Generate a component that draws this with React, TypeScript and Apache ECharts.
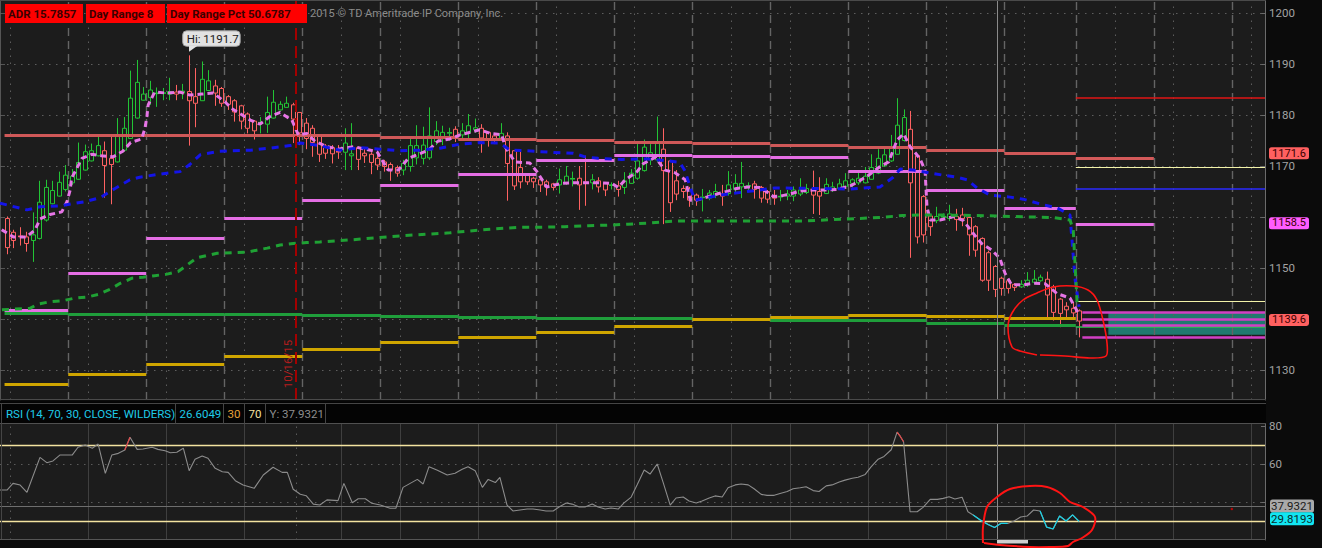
import React, { useEffect, useRef } from "react";
import * as echarts from "echarts";

const FONT = "Roboto, 'Noto Sans', sans-serif";

// ---------- axis ticks ----------
const priceTicks = [1130, 1140, 1150, 1160, 1170, 1180, 1190, 1200];
const priceLabels = [1130, 1150, 1170, 1180, 1190, 1200]; // 1140 / 1160 sit under the value tags
const rsiTicks = [40, 60, 80];
const rsiLabels = [60, 80];
const rsiGridLevels = [40, 60];
const rsiBands = [30, 70];

// ---------- 30-minute candles: [open, close, low, high] ----------
const ohlc = [
  [1159.7, 1154.0, 1152.7, 1160.1], [1157.0, 1155.4, 1153.9, 1157.5], [1156.3, 1156.1, 1154.4, 1158.0], [1156.1, 1154.8, 1153.2, 1157.1],
  [1155.4, 1156.5, 1151.2, 1160.9], [1155.8, 1162.9, 1155.6, 1167.1], [1159.4, 1165.8, 1159.1, 1167.3], [1162.6, 1165.2, 1162.5, 1167.1],
  [1164.1, 1166.8, 1164.0, 1168.9], [1165.4, 1168.2, 1165.0, 1170.2], [1166.7, 1168.0, 1166.3, 1169.4], [1167.4, 1170.7, 1167.3, 1174.6],
  [1169.2, 1172.8, 1169.1, 1174.2], [1171.0, 1173.0, 1170.9, 1174.4], [1172.0, 1174.0, 1171.9, 1176.1], [1173.0, 1170.1, 1163.8, 1174.8],
  [1171.5, 1170.3, 1162.5, 1176.1], [1170.8, 1175.9, 1170.7, 1179.4], [1173.1, 1177.4, 1172.8, 1179.6], [1175.4, 1183.3, 1175.3, 1188.7],
  [1179.4, 1186.4, 1179.3, 1190.8], [1182.9, 1184.1, 1182.8, 1185.5], [1183.4, 1184.9, 1182.0, 1186.7], [1184.2, 1184.3, 1181.6, 1185.4],
  [1184.2, 1184.4, 1182.9, 1185.3], [1184.1, 1184.6, 1182.9, 1187.3], [1184.5, 1184.1, 1182.9, 1185.9], [1184.3, 1184.7, 1183.1, 1186.1],
  [1184.6, 1182.8, 1174.0, 1191.7], [1183.6, 1182.3, 1177.6, 1189.2], [1182.8, 1187.0, 1182.8, 1190.5], [1184.8, 1186.7, 1184.7, 1188.8],
  [1185.7, 1184.3, 1181.8, 1186.9], [1185.2, 1182.3, 1181.6, 1185.5], [1183.6, 1182.1, 1181.0, 1183.9], [1182.8, 1180.6, 1178.7, 1183.1],
  [1181.8, 1178.8, 1177.2, 1182.0], [1180.2, 1177.4, 1176.4, 1180.5], [1178.8, 1176.9, 1175.2, 1179.0], [1178.4, 1178.6, 1176.4, 1179.6],
  [1178.2, 1180.5, 1176.5, 1183.6], [1179.4, 1182.5, 1179.3, 1184.9], [1181.0, 1182.1, 1180.9, 1182.7], [1181.5, 1182.3, 1181.4, 1183.6],
  [1182.0, 1179.2, 1174.5, 1182.4], [1180.5, 1176.5, 1174.1, 1180.6], [1178.4, 1175.4, 1173.3, 1179.4], [1177.4, 1174.6, 1171.8, 1178.0],
  [1175.9, 1172.3, 1170.8, 1176.2], [1173.9, 1172.5, 1171.4, 1174.3], [1173.6, 1172.4, 1170.5, 1174.1], [1172.9, 1172.7, 1171.4, 1174.1],
  [1172.7, 1174.5, 1169.2, 1177.4], [1172.0, 1172.4, 1169.2, 1178.4], [1173.6, 1171.3, 1169.2, 1173.8], [1172.5, 1172.0, 1170.6, 1173.4],
  [1172.3, 1170.7, 1168.4, 1172.7], [1171.5, 1170.2, 1169.2, 1172.2], [1170.8, 1169.9, 1168.9, 1171.2], [1170.3, 1169.2, 1167.1, 1170.7],
  [1169.7, 1168.6, 1167.9, 1170.1], [1169.2, 1170.5, 1168.2, 1171.2], [1169.9, 1174.0, 1168.9, 1175.3], [1171.6, 1174.0, 1170.3, 1178.0],
  [1171.5, 1174.1, 1170.3, 1177.7], [1171.6, 1175.9, 1171.2, 1181.5], [1174.8, 1176.9, 1174.1, 1178.8], [1175.4, 1176.6, 1174.1, 1177.9],
  [1176.4, 1176.6, 1175.0, 1177.5], [1177.2, 1175.6, 1174.7, 1177.8], [1176.1, 1176.9, 1175.4, 1178.4], [1176.5, 1177.9, 1175.4, 1180.2],
  [1177.1, 1177.5, 1176.5, 1179.3], [1177.4, 1175.5, 1172.6, 1178.2], [1176.6, 1175.0, 1173.8, 1176.7], [1175.9, 1175.2, 1174.3, 1176.1],
  [1175.5, 1176.4, 1174.9, 1178.4], [1175.9, 1170.5, 1163.2, 1176.6], [1173.0, 1166.1, 1165.3, 1173.1], [1169.7, 1166.9, 1165.6, 1172.8],
  [1168.4, 1166.9, 1166.3, 1168.6], [1167.6, 1166.9, 1165.7, 1167.9], [1167.3, 1166.3, 1164.9, 1167.6], [1166.9, 1165.9, 1164.2, 1167.3],
  [1166.5, 1165.8, 1165.2, 1166.7], [1166.3, 1167.3, 1164.6, 1169.5], [1166.6, 1168.0, 1166.3, 1170.0], [1167.4, 1167.6, 1166.0, 1168.9],
  [1167.6, 1166.3, 1161.4, 1170.0], [1166.9, 1166.6, 1162.2, 1172.0], [1166.7, 1167.3, 1165.4, 1168.4], [1167.1, 1165.9, 1164.8, 1167.8],
  [1166.6, 1165.3, 1164.1, 1166.7], [1166.2, 1166.3, 1165.4, 1166.8], [1166.1, 1165.4, 1164.0, 1167.1], [1165.8, 1167.1, 1164.5, 1168.8],
  [1166.6, 1168.6, 1166.5, 1169.4], [1167.6, 1171.0, 1167.3, 1174.3], [1169.1, 1173.7, 1168.9, 1175.2], [1171.2, 1172.6, 1170.2, 1174.3],
  [1171.2, 1174.8, 1170.8, 1179.7], [1173.3, 1169.1, 1158.6, 1177.4], [1171.0, 1162.8, 1161.0, 1171.2], [1167.1, 1164.5, 1163.3, 1169.2],
  [1165.6, 1165.0, 1163.7, 1166.2], [1165.4, 1163.3, 1162.0, 1165.9], [1164.3, 1163.3, 1162.2, 1164.6], [1163.7, 1164.0, 1161.1, 1165.5],
  [1163.7, 1164.7, 1163.3, 1165.3], [1164.3, 1165.0, 1163.7, 1166.5], [1164.5, 1164.1, 1162.2, 1166.3], [1164.6, 1166.3, 1164.2, 1169.0],
  [1165.4, 1166.6, 1164.9, 1168.4], [1165.9, 1166.6, 1163.7, 1170.8], [1166.0, 1166.2, 1165.3, 1166.8], [1166.5, 1165.4, 1163.6, 1167.1],
  [1165.8, 1163.7, 1162.8, 1166.1], [1165.0, 1163.5, 1162.7, 1165.3], [1164.1, 1163.7, 1162.4, 1165.3], [1163.9, 1164.1, 1163.1, 1165.3],
  [1164.1, 1164.5, 1163.3, 1165.3], [1164.1, 1165.3, 1163.1, 1166.0], [1164.5, 1165.3, 1164.1, 1167.6], [1164.8, 1165.6, 1164.5, 1166.5],
  [1165.3, 1164.3, 1160.6, 1169.1], [1165.0, 1164.1, 1160.4, 1167.8], [1164.6, 1166.4, 1164.5, 1167.6], [1165.3, 1165.9, 1164.9, 1166.9],
  [1165.6, 1166.5, 1165.3, 1167.5], [1166.0, 1167.1, 1165.5, 1168.6], [1166.6, 1167.3, 1165.8, 1167.6], [1166.7, 1167.6, 1166.3, 1169.2],
  [1166.7, 1168.0, 1166.6, 1169.8], [1167.4, 1169.7, 1167.3, 1172.3], [1168.6, 1171.5, 1168.4, 1173.3], [1170.0, 1172.2, 1169.8, 1173.5],
  [1171.0, 1173.5, 1170.8, 1176.1], [1172.3, 1178.0, 1172.2, 1183.3], [1175.0, 1179.5, 1174.8, 1181.1], [1177.2, 1166.7, 1152.0, 1180.8],
  [1172.0, 1156.1, 1154.8, 1172.2], [1164.0, 1156.5, 1155.0, 1164.3], [1160.2, 1158.1, 1156.3, 1160.6], [1159.3, 1160.1, 1158.8, 1162.0],
  [1160.0, 1160.1, 1159.5, 1160.7], [1159.7, 1160.6, 1159.2, 1162.4], [1160.1, 1159.5, 1157.3, 1161.6], [1160.4, 1159.7, 1158.2, 1161.8],
  [1159.9, 1156.5, 1152.4, 1160.2], [1158.1, 1153.5, 1152.2, 1158.4], [1155.8, 1147.6, 1147.3, 1156.0], [1153.0, 1147.6, 1145.5, 1153.4],
  [1150.3, 1145.8, 1144.3, 1150.6], [1148.0, 1146.0, 1144.6, 1148.3], [1147.5, 1146.0, 1145.0, 1147.8], [1146.8, 1146.2, 1145.5, 1147.0],
  [1146.3, 1146.8, 1146.1, 1147.6], [1146.7, 1147.6, 1146.3, 1149.2], [1147.2, 1147.8, 1146.9, 1149.6], [1147.5, 1148.2, 1147.3, 1148.7],
  [1147.8, 1144.7, 1140.3, 1149.3], [1146.3, 1141.3, 1139.7, 1146.7], [1143.9, 1141.1, 1138.4, 1144.1], [1142.5, 1141.8, 1140.3, 1143.3],
  [1142.1, 1141.2, 1140.4, 1143.3], [1141.6, 1139.6, 1136.4, 1141.9],
];

// ---------- moving averages: [bar position, value] ----------
const pinkMA = [
  [-0.74, 1157.5], [1.05, 1156.1], [3.1, 1156.1], [4.4, 1157.5], [5.15, 1159.6], [6.7, 1160.5], [8.5, 1161.0], [9.3, 1163.0], [9.8, 1165.3],
  [10.0, 1167.6], [10.8, 1169.5], [11.6, 1171.5], [13.1, 1172.3], [14.6, 1172.0], [16.4, 1171.8], [17.9, 1172.9], [19.1, 1174.6], [20.8, 1175.3],
  [21.3, 1177.4], [21.6, 1179.7], [21.8, 1182.0], [22.8, 1184.5], [24.6, 1184.3], [26.7, 1184.5], [28.2, 1183.9], [30.0, 1184.1], [31.8, 1184.3],
  [33.6, 1182.6], [34.6, 1181.3], [35.9, 1180.3], [37.5, 1179.0], [39.0, 1178.2], [40.5, 1179.7], [42.1, 1180.5], [43.9, 1179.0], [44.9, 1176.1],
  [46.2, 1176.4], [47.5, 1174.8], [49.3, 1173.8], [51.0, 1173.3], [53.4, 1173.8], [55.2, 1173.3], [57.0, 1172.8], [58.7, 1169.2], [60.3, 1169.2],
  [61.8, 1171.5], [63.4, 1172.3], [64.9, 1173.1], [66.4, 1174.9], [68.2, 1175.3], [69.8, 1176.1], [72.8, 1177.1], [74.4, 1176.4], [76.2, 1176.1],
  [76.7, 1173.8], [78.2, 1170.8], [80.5, 1170.6], [81.6, 1168.9], [83.1, 1165.9], [85.4, 1166.6], [87.2, 1166.7], [89.3, 1166.7], [91.3, 1166.7],
  [93.1, 1166.6], [94.1, 1165.8], [95.2, 1167.3], [97.0, 1168.9], [98.0, 1170.5], [99.8, 1171.7], [101.3, 1169.2], [102.8, 1168.7], [104.4, 1167.3],
  [105.2, 1163.3], [106.2, 1163.3], [107.7, 1163.9], [109.3, 1164.5], [110.8, 1165.0], [112.3, 1165.6], [114.1, 1165.9], [115.9, 1165.8],
  [118.0, 1164.0], [119.0, 1164.1], [120.5, 1164.5], [122.1, 1165.1], [124.1, 1165.3], [126.2, 1165.3], [127.7, 1165.4], [129.8, 1166.1],
  [131.0, 1166.9], [132.6, 1168.2], [134.4, 1169.9], [135.7, 1170.8], [137.0, 1175.1], [138.0, 1176.3], [139.0, 1173.8], [140.5, 1171.5],
  [141.3, 1169.2], [141.6, 1162.0], [142.1, 1159.4], [143.6, 1159.4], [145.7, 1160.1], [147.2, 1159.3], [148.7, 1156.8], [150.0, 1154.8],
  [151.6, 1153.5], [152.8, 1151.9], [153.6, 1149.0], [154.6, 1146.7], [156.4, 1146.7], [158.0, 1147.0], [159.8, 1146.9], [161.6, 1145.0],
  [163.6, 1144.1], [164.9, 1141.1],
];
const blueMA = [
  [-1.0, 1162.7], [3.15, 1161.4], [5.15, 1162.0], [8.2, 1162.2], [12.1, 1163.0], [14.4, 1163.8], [16.7, 1165.6], [19.0, 1167.3], [20.5, 1167.8],
  [23.6, 1168.4], [26.7, 1168.9], [28.2, 1170.3], [29.8, 1172.2], [32.8, 1172.9], [37.5, 1173.1], [40.5, 1173.5], [43.6, 1174.0], [45.2, 1174.5],
  [48.2, 1174.0], [49.8, 1173.5], [51.3, 1173.1], [54.4, 1173.6], [57.5, 1173.3], [60.5, 1173.0], [63.6, 1173.1], [66.7, 1173.5], [69.8, 1174.3],
  [72.8, 1174.6], [75.9, 1174.5], [77.5, 1173.1], [79.8, 1173.0], [83.6, 1172.7], [87.2, 1172.5], [89.0, 1171.8], [91.0, 1171.5], [94.7, 1171.3],
  [98.5, 1171.4], [101.8, 1171.0], [103.6, 1170.7], [104.4, 1169.0], [105.2, 1165.7], [105.9, 1163.3], [109.8, 1164.3], [118.2, 1165.7],
  [129.8, 1165.5], [134.4, 1165.9], [136.4, 1167.8], [137.5, 1169.4], [139.5, 1169.2], [144.1, 1168.2], [146.2, 1167.8], [147.8, 1167.3],
  [149.3, 1165.7], [151.3, 1164.3], [154.4, 1163.9], [156.4, 1163.5], [159.5, 1162.4], [161.6, 1161.8], [163.6, 1160.4], [164.4, 1147.6],
  [164.7, 1145.1], [165.0, 1142.4],
];
const greenMA = [
  [-0.7, 1141.8], [3.6, 1142.1], [4.8, 1142.9], [6.7, 1143.4], [8.7, 1143.6], [10.5, 1144.1], [12.4, 1144.3], [14.1, 1144.8], [15.9, 1145.8],
  [17.5, 1147.0], [19.3, 1148.0], [21.0, 1148.2], [22.8, 1148.5], [24.7, 1148.8], [26.4, 1149.3], [27.9, 1150.7], [29.3, 1152.0], [31.0, 1152.5],
  [32.4, 1152.9], [34.8, 1153.0], [37.0, 1153.1], [38.5, 1153.5], [40.1, 1153.9], [42.1, 1154.5], [44.1, 1154.8], [46.2, 1155.0], [48.2, 1155.1],
  [52.8, 1155.5], [60.5, 1156.3], [68.2, 1156.9], [73.2, 1157.5], [76.7, 1157.8], [79.3, 1158.0], [82.4, 1158.0], [85.9, 1158.1], [89.5, 1158.3],
  [92.5, 1158.4], [95.6, 1158.6], [98.7, 1158.8], [100.8, 1159.0], [102.8, 1159.2], [105.9, 1159.2], [122.1, 1159.2], [134.4, 1159.9],
  [137.9, 1160.3], [140.1, 1160.4], [143.2, 1160.4], [149.3, 1160.3], [154.8, 1160.1], [161.0, 1159.9], [163.6, 1159.4], [164.1, 1157.5],
  [164.7, 1143.1], [165.0, 1142.5],
];

// ---------- daily levels (one value per session) ----------
const dayBounds = [
  [-0.3, 9.5], [9.5, 21.5], [21.5, 33.5], [33.5, 45.5], [45.5, 57.5], [57.5, 69.5], [69.5, 81.5],
  [81.5, 93.5], [93.5, 105.5], [105.5, 117.5], [117.5, 129.5], [129.5, 141.5], [141.5, 153.5], [153.5, 164.5],
];
const salmonLevels = [1176.1, 1176.1, 1176.1, 1176.1, 1176.0, 1175.6, 1175.2, 1175.0, 1174.7, 1174.5, 1174.1, 1173.7, 1173.1, 1172.5];
const pinkLevels = [1141.8, 1148.9, 1155.8, 1159.7, 1163.2, 1166.3, 1168.4, 1171.1, 1172.1, 1171.9, 1171.7, 1169.0, 1165.3, 1161.8];
const greenLevels = [1141.1, 1140.9, 1140.9, 1140.9, 1140.7, 1140.5, 1140.4, 1140.2, 1140.1, 1139.9, 1139.8, 1139.7, 1139.2, 1138.7];
const yellowLevels = [1127.2, 1129.1, 1131.2, 1132.7, 1134.1, 1135.4, 1136.5, 1137.5, 1138.6, 1140.0, 1140.4, 1140.7, 1140.5, 1140.1];

// current session levels
const todayRed = 1183.3;
const todaySalmon = 1171.6;
const todayHiLine = 1169.7;
const todayBlue = 1165.6;
const todayPink = 1158.5;
const todayLoLine = 1143.5;
const todayGreen = 1138.4;
const profileLines = [1141.4, 1140.0, 1138.8, 1136.5];
const profileBand = [1136.9, 1141.3];
const lastPrice = 1139.6;

// ---------- grid positions (bar units) ----------
const daySeparators = [9.5, 21.5, 33.5, 45.5, 57.5, 69.5, 81.5, 93.5, 105.5, 117.5, 129.5, 141.5, 153.5, 164.5, 176.5, 188.5];
const subGridLines = [0.5, 12.5, 24.5, 36.5, 51.5, 60.5, 72.5, 84.5, 96.5, 111.5, 120.5, 132.5, 144.5, 156.5, 170.5, 179.5, 191.5];
const dateMarker = 44.5;
const cursorBar = 152.4;

// ---------- RSI(14) ----------
const rsiPoints = [
  [-1, 46.3], [0.08, 46.3], [1.0, 49.8], [2.1, 48.9], [3.15, 45.1], [5.15, 63.5], [6.2, 60.7], [7.15, 61.6], [8.2, 64.7], [10.1, 64.7],
  [11.0, 68.8], [12.1, 70.0], [13.2, 68.3], [14.1, 70.5], [15.2, 55.1], [16.2, 64.7], [17.2, 65.6], [18.2, 67.4], [19.0, 74.1], [20.1, 67.7],
  [21.0, 67.9], [22.4, 68.8], [23.3, 67.7], [24.4, 67.0], [25.2, 65.9], [26.2, 66.2], [27.2, 68.3], [28.1, 56.5], [29.0, 62.5], [30.1, 64.2],
  [31.0, 63.0], [32.1, 57.7], [33.2, 55.9], [34.1, 55.6], [35.2, 51.2], [36.4, 48.9], [38.1, 47.2], [39.5, 54.2], [41.0, 58.3], [42.4, 55.6],
  [43.2, 55.6], [44.1, 46.7], [45.2, 44.1], [46.1, 43.3], [47.2, 38.9], [48.2, 38.4], [49.3, 41.1], [51.0, 40.7], [51.9, 49.8], [53.2, 39.6],
  [54.1, 41.7], [55.2, 41.7], [56.2, 39.3], [57.5, 38.4], [59.0, 36.7], [59.9, 36.7], [61.0, 47.7], [63.2, 51.9], [64.1, 49.5], [65.0, 58.6],
  [66.2, 56.8], [67.8, 54.2], [69.0, 55.1], [70.1, 57.2], [71.0, 58.6], [72.1, 56.5], [73.2, 47.7], [74.1, 51.9], [75.2, 50.2], [75.9, 53.0],
  [77.0, 38.4], [77.9, 35.3], [79.0, 35.8], [80.1, 36.3], [81.0, 36.3], [82.1, 35.8], [83.0, 35.3], [84.1, 35.3], [85.0, 37.4], [86.1, 39.5],
  [87.0, 38.9], [88.1, 37.4], [89.0, 37.4], [90.1, 38.9], [91.0, 37.4], [92.1, 36.3], [93.0, 36.8], [94.1, 36.3], [95.0, 39.5], [96.1, 42.6],
  [97.0, 48.9], [98.1, 56.8], [99.0, 54.7], [100.1, 60.0], [101.0, 50.5], [102.1, 38.4], [103.0, 42.1], [104.1, 42.6], [105.0, 40.5],
  [106.1, 39.5], [107.0, 40.5], [108.1, 42.1], [109.0, 43.2], [110.1, 42.6], [111.0, 47.5], [112.1, 49.0], [113.0, 49.5], [114.1, 49.0],
  [115.0, 47.0], [116.1, 44.0], [117.0, 43.5], [118.1, 43.5], [119.0, 44.5], [120.1, 45.5], [121.0, 47.0], [122.1, 47.5], [123.0, 48.0],
  [124.1, 46.0], [125.0, 45.5], [126.1, 48.5], [127.0, 49.0], [128.1, 50.5], [129.0, 51.5], [130.1, 52.5], [131.0, 53.0], [132.1, 54.5],
  [133.0, 58.5], [134.1, 62.5], [135.0, 64.0], [136.1, 67.5], [137.0, 76.8], [137.5, 74.5], [138.0, 71.7], [139.0, 34.9], [140.1, 34.9],
  [141.0, 37.2], [142.1, 41.4], [143.2, 41.4], [144.1, 41.9], [145.0, 42.8], [145.9, 41.6], [147.0, 42.5], [147.9, 34.9], [148.7, 33.2],
  [149.8, 30.5], [151.0, 28.2], [152.0, 26.6], [153.0, 28.8], [154.0, 28.7], [155.0, 30.0], [156.0, 32.1], [157.0, 32.6], [158.0, 35.8],
  [159.0, 35.3], [160.0, 26.8], [161.0, 25.8], [162.0, 32.6], [163.0, 30.0], [164.0, 33.2], [165.0, 29.8],
];
const rsiCyanRanges = [[148.7, 154.0], [159.0, 165.0]];
const rsiRedRanges = [[18.2, 19.0], [137.0, 138.0]];
const rsiCursor = 37.9321;
const rsiLast = 29.8193;
const rsiDot = [[188.5, 36.3]];

// ---------- scale limits ----------
const X_MIN = -1;
const X_MAX = 193.6;
const Y_MIN = 1124.12;
const Y_MAX = 1202.55;
const RSI_MIN = 20;
const RSI_MAX = 81.05;

const UP = "#22c435";
const DOWN = "#ff6262";

function segs(name, coords, lineStyle, xi, yi, z) {
  return {
    type: "lines",
    name,
    coordinateSystem: "cartesian2d",
    xAxisIndex: xi,
    yAxisIndex: yi,
    polyline: false,
    silent: true,
    z,
    lineStyle: Object.assign({ opacity: 1 }, lineStyle),
    data: coords.map((c) => ({ coords: c })),
  };
}

function buildOption() {
  const hLine = (v, a, b) => [[a, v], [b, v]];
  const vLine = (x, a, b) => [[x, a], [x, b]];
  const levelSegs = (levels) => levels.map((v, i) => hLine(v, dayBounds[i][0], dayBounds[i][1]));
  const inRanges = (ranges) =>
    ranges.map((r) => rsiPoints.filter((p) => p[0] >= r[0] - 1e-6 && p[0] <= r[1] + 1e-6));

  const series = [
    // main grid
    segs("hgrid", priceTicks.map((v) => hLine(v, X_MIN, X_MAX)), { color: "#5e5e5e", width: 1, type: [1.5, 5.5] }, 0, 0, 1),
    segs("daysep", daySeparators.map((x) => vLine(x, Y_MIN, Y_MAX)), { color: "#646464", width: 1.4, type: [8, 5] }, 0, 0, 1),
    segs("subgrid", subGridLines.map((x) => vLine(x, Y_MIN, Y_MAX)), { color: "#5c5c5c", width: 1, type: [1.5, 5.5] }, 0, 0, 1),
    // rsi grid
    segs("rhgrid", rsiGridLevels.map((v) => hLine(v, X_MIN, X_MAX)), { color: "#5a5a5a", width: 1, type: [1.5, 5.5] }, 1, 2, 1),
    segs("rvgrid", subGridLines.slice(1).map((x) => vLine(x, RSI_MIN, RSI_MAX)), { color: "#3f3f3f", width: 1 }, 1, 2, 1),
    segs("rvdot", [subGridLines[0], dateMarker].map((x) => vLine(x, RSI_MIN, RSI_MAX)), { color: "#5a5a5a", width: 1, type: [1.5, 5.5] }, 1, 2, 1),
    // candles
    {
      type: "custom",
      name: "candles",
      xAxisIndex: 0,
      yAxisIndex: 0,
      z: 2,
      clip: true,
      silent: true,
      data: ohlc.map((d, i) => [i, d[0], d[1], d[2], d[3]]),
      encode: { x: 0, y: [1, 2, 3, 4] },
      renderItem: (params, api) => {
        const i = api.value(0);
        const o = api.value(1);
        const c = api.value(2);
        const l = api.value(3);
        const h = api.value(4);
        const px = api.coord([i, o])[0];
        const yo = api.coord([i, o])[1];
        const yc = api.coord([i, c])[1];
        const yl = api.coord([i, l])[1];
        const yh = api.coord([i, h])[1];
        const color = c >= o ? UP : DOWN;
        const top = Math.min(yo, yc);
        const bot = Math.max(yo, yc);
        const cx = Math.round(px) + 0.5;
        const children = [];
        children.push({ type: "line", shape: { x1: cx, y1: yh, x2: cx, y2: top }, style: { stroke: color, lineWidth: 1 } });
        children.push({ type: "line", shape: { x1: cx, y1: bot, x2: cx, y2: yl }, style: { stroke: color, lineWidth: 1 } });
        if (bot - top < 1.6) {
          const ym = (top + bot) / 2;
          children.push({ type: "line", shape: { x1: cx - 2.5, y1: ym, x2: cx + 2.5, y2: ym }, style: { stroke: color, lineWidth: 1.6 } });
        } else {
          children.push({
            type: "rect",
            shape: { x: cx - 2, y: top, width: 4, height: bot - top },
            style: { fill: "#1c1c1c", stroke: color, lineWidth: 1 },
          });
        }
        return { type: "group", children };
      },
      markArea: {
        silent: true,
        itemStyle: { color: "#1f7a6f", opacity: 1 },
        data: [[{ coord: [169.5, profileBand[1]] }, { coord: [X_MAX, profileBand[0]] }]],
      },
    },
    // daily levels
    segs("salmon", levelSegs(salmonLevels), { color: "#cf5858", width: 3 }, 0, 0, 3),
    segs("pinklvl", levelSegs(pinkLevels), { color: "#e46ee4", width: 3 }, 0, 0, 3),
    segs("greenlvl", levelSegs(greenLevels), { color: "#1f9e3b", width: 3 }, 0, 0, 3),
    segs("yellowlvl", levelSegs(yellowLevels), { color: "#cfa500", width: 3 }, 0, 0, 3),
    // today
    segs("tRed", [hLine(todayRed, 164.5, X_MAX)], { color: "#e01515", width: 1.5 }, 0, 0, 3),
    segs("tSalmon", [hLine(todaySalmon, 164.5, 176.5)], { color: "#d45a5a", width: 3 }, 0, 0, 3),
    segs("tHi", [hLine(todayHiLine, 164.5, X_MAX), hLine(todayLoLine, 164.5, X_MAX)], { color: "#f2f2a8", width: 1.2 }, 0, 0, 3),
    segs("tBlue", [hLine(todayBlue, 164.5, X_MAX)], { color: "#2a2aff", width: 1.6 }, 0, 0, 3),
    segs("tPink", [hLine(todayPink, 164.5, 176.5)], { color: "#e46ee4", width: 3 }, 0, 0, 3),
    segs("tGreen", [hLine(todayGreen, 164.5, X_MAX)], { color: "#2fc24f", width: 1.6 }, 0, 0, 3),
    segs("profile", profileLines.map((v) => hLine(v, 165.5, X_MAX)), { color: "#d23fc4", width: 2.6 }, 0, 0, 3),
    // moving averages
    {
      type: "line", name: "pinkMA", xAxisIndex: 0, yAxisIndex: 0, z: 4, silent: true, showSymbol: false, symbol: "none",
      data: pinkMA, lineStyle: { color: "#e675e6", width: 3, type: [6, 4] },
    },
    {
      type: "line", name: "blueMA", xAxisIndex: 0, yAxisIndex: 0, z: 4, silent: true, showSymbol: false, symbol: "none",
      data: blueMA, lineStyle: { color: "#1414e8", width: 3, type: [7, 6] },
    },
    {
      type: "line", name: "greenMA", xAxisIndex: 0, yAxisIndex: 0, z: 4, silent: true, showSymbol: false, symbol: "none",
      data: greenMA, lineStyle: { color: "#1fa134", width: 3, type: [7, 6] },
    },
    // date marker & cursor
    segs("datemark", [vLine(dateMarker, Y_MIN, Y_MAX)], { color: "#a30000", width: 2, type: [12, 6] }, 0, 0, 5),
    segs("cursor", [vLine(cursorBar, Y_MIN, Y_MAX)], { color: "#8a8a8a", width: 1 }, 0, 0, 5),
    segs("rcursor", [vLine(cursorBar, RSI_MIN, RSI_MAX)], { color: "#8a8a8a", width: 1 }, 1, 2, 5),
    segs("rcursorY", [hLine(rsiCursor, X_MIN, X_MAX)], { color: "#6e6e6e", width: 1.2 }, 1, 2, 2),
    segs("rbands", rsiBands.map((v) => hLine(v, X_MIN, X_MAX)), { color: "#f3e3a0", width: 1.4 }, 1, 2, 3),
    {
      type: "line", name: "rsi", xAxisIndex: 1, yAxisIndex: 2, z: 4, silent: true, showSymbol: false, symbol: "none",
      data: rsiPoints, lineStyle: { color: "#8c8c8c", width: 1.1 },
    },
    ...inRanges(rsiCyanRanges).map((d, k) => ({
      type: "line", name: "rsiCyan" + k, xAxisIndex: 1, yAxisIndex: 2, z: 5, silent: true, showSymbol: false, symbol: "none",
      data: d, lineStyle: { color: "#19d2e6", width: 1.2 },
    })),
    ...inRanges(rsiRedRanges).map((d, k) => ({
      type: "line", name: "rsiRed" + k, xAxisIndex: 1, yAxisIndex: 2, z: 5, silent: true, showSymbol: false, symbol: "none",
      data: d, lineStyle: { color: "#e04848", width: 1.2 },
    })),
    {
      type: "scatter", name: "rsiDot", xAxisIndex: 1, yAxisIndex: 2, z: 5, silent: true,
      data: rsiDot, symbolSize: 2.5, itemStyle: { color: "#e00000" },
    },
  ];

  const axisLbl = { color: "#a3a3a3", fontSize: 11.5, fontFamily: FONT, margin: 4, formatter: (v) => String(v) };
  return {
    animation: false,
    backgroundColor: "#0b0b0b",
    grid: [
      { left: 0, top: 0, width: 1265, height: 400, show: true, backgroundColor: "#1c1c1c", borderWidth: 0 },
      { left: 0, top: 424, width: 1265, height: 116, show: true, backgroundColor: "#1c1c1c", borderWidth: 0 },
    ],
    xAxis: [
      { type: "value", gridIndex: 0, min: X_MIN, max: X_MAX, show: false, axisLine: { onZero: false }, splitLine: { show: false } },
      { type: "value", gridIndex: 1, min: X_MIN, max: X_MAX, show: false, axisLine: { onZero: false }, splitLine: { show: false } },
    ],
    yAxis: [
      {
        type: "value", gridIndex: 0, position: "right", min: Y_MIN, max: Y_MAX,
        axisLine: { show: true, onZero: false, lineStyle: { color: "#6b6b6b" } },
        axisTick: { show: true, inside: true, length: 4, customValues: priceTicks, lineStyle: { color: "#6b6b6b" } },
        axisLabel: Object.assign({ customValues: priceLabels }, axisLbl),
        splitLine: { show: false },
      },
      {
        type: "value", gridIndex: 0, position: "left", min: Y_MIN, max: Y_MAX,
        axisLine: { show: true, onZero: false, lineStyle: { color: "#555555" } },
        axisTick: { show: true, inside: true, length: 5, customValues: priceTicks, lineStyle: { color: "#555555" } },
        axisLabel: { show: false },
        splitLine: { show: false },
      },
      {
        type: "value", gridIndex: 1, position: "right", min: RSI_MIN, max: RSI_MAX,
        axisLine: { show: true, onZero: false, lineStyle: { color: "#6b6b6b" } },
        axisTick: { show: true, inside: true, length: 4, customValues: rsiTicks, lineStyle: { color: "#6b6b6b" } },
        axisLabel: Object.assign({ customValues: rsiLabels }, axisLbl),
        splitLine: { show: false },
      },
    ],
    series,
  };
}

function txt(text, x, y, fill, font, align) {
  const a = align || "left";
  return {
    type: "text",
    z: 60,
    silent: true,
    style: { text, x, y, fill, font, align: a, textAlign: a, verticalAlign: "middle", textVerticalAlign: "middle" },
  };
}
function rect(x, y, w, h, fill) {
  return { type: "rect", z: 55, silent: true, shape: { x, y, width: w, height: h }, style: { fill } };
}
function hl(x1, x2, y, stroke) {
  return { type: "line", z: 56, silent: true, shape: { x1, y1: y, x2, y2: y }, style: { stroke, lineWidth: 1 } };
}
function vl(x, y1, y2, stroke) {
  return { type: "line", z: 56, silent: true, shape: { x1: x, y1, x2: x, y2 }, style: { stroke, lineWidth: 1 } };
}

function buildGraphic(chart) {
  const px = (v) => chart.convertToPixel({ xAxisIndex: 0 }, v);
  const py = (v) => chart.convertToPixel({ yAxisIndex: 0 }, v);
  const ry = (v) => chart.convertToPixel({ yAxisIndex: 2 }, v);
  const F = "11.5px " + FONT;
  const FB = "bold 11.5px " + FONT;
  const g = [];

  // panel borders
  g.push(hl(0, 1266, 0.5, "#4a4a4a"));
  g.push(hl(0, 1266, 399.5, "#4a4a4a"));

  // header boxes
  g.push(rect(5, 4, 78, 19, "#ff0000"));
  g.push(rect(86, 4, 79, 19, "#ff0000"));
  g.push(rect(167, 4, 140, 19, "#ff0000"));
  g.push(txt("ADR 15.7857", 8, 13.5, "#3a0000", FB));
  g.push(txt("Day Range 8", 89, 13.5, "#3a0000", FB));
  g.push(txt("Day Range Pct 50.6787", 170, 13.5, "#3a0000", FB));
  g.push(txt("2015 \u00a9 TD Ameritrade IP Company, Inc.", 310, 13.5, "#8c8c8c", "11px " + FONT));

  // Hi bubble at the highest high
  let hiIdx = 0;
  ohlc.forEach((d, i) => { if (d[3] > ohlc[hiIdx][3]) hiIdx = i; });
  const hx = Math.round(px(hiIdx)) + 0.5;
  const hy = py(ohlc[hiIdx][3]);
  g.push({ type: "rect", z: 57, silent: true, shape: { x: hx - 6.8, y: hy - 24.5, width: 57.5, height: 15.5, r: 4 }, style: { fill: "#e2e2e2", stroke: "#a0a0a0", lineWidth: 1 } });
  g.push({ type: "polygon", z: 58, silent: true, shape: { points: [[hx - 0.5, hy - 9.6], [hx + 8, hy - 9.6], [hx - 0.5, hy - 3.5]] }, style: { fill: "#e2e2e2", stroke: null } });
  g.push(txt("Hi: " + ohlc[hiIdx][3].toFixed(1), hx - 2.8, hy - 16.6, "#202020", F));

  // date marker label
  g.push({
    type: "text", z: 60, silent: true, x: px(dateMarker) - 8, y: 364, rotation: Math.PI / 2,
    style: { text: "10/16/15", x: 0, y: 0, fill: "#b31c1c", font: F, align: "center", textAlign: "center", verticalAlign: "middle", textVerticalAlign: "middle" },
  });

  // right price labels
  const priceTag = (v, fill, dy) => {
    const y = py(v) + dy;
    g.push({ type: "rect", z: 57, silent: true, shape: { x: 1269, y: y - 6, width: 40, height: 12, r: 2.5 }, style: { fill } });
    g.push(txt(v.toFixed(1), 1289, y - 0.2, "#3a0000", "11px " + FONT, "center"));
  };
  priceTag(todaySalmon, "#ff6060", -4.5);
  priceTag(todayPink, "#ff5cff", -1.5);
  priceTag(lastPrice, "#ff6060", -1);

  // RSI header
  g.push(rect(0, 401.5, 1266, 22, "#040404"));
  g.push(hl(0, 1266, 403.5, "#454545"));
  g.push(hl(0, 1266, 423.5, "#505050"));
  [1.5, 175.5, 223.5, 244.5, 265.5, 325.5].forEach((x) => g.push(vl(x, 403.5, 423.5, "#454545")));
  g.push(vl(1.5, 423.5, 540, "#454545"));
  g.push(txt("RSI (14, 70, 30, CLOSE, WILDERS)", 6, 413.5, "#1fcbe8", F));
  g.push(txt("26.6049", 179.5, 413.5, "#1fcbe8", F));
  g.push(txt("30", 227.5, 413.5, "#e6a33a", F));
  g.push(txt("70", 248.5, 413.5, "#f3e2a0", F));
  g.push(txt("Y: 37.9321", 269.5, 413.5, "#8e8e8e", F));

  // RSI right labels
  const ryc = ry(rsiCursor);
  g.push({ type: "rect", z: 57, silent: true, shape: { x: 1270, y: ryc - 6.5, width: 44, height: 13, r: 2.5 }, style: { fill: "#a9a9a9" } });
  g.push(txt(rsiCursor.toFixed(4), 1292, ryc, "#1a1a1a", F, "center"));
  const ryl = ry(rsiLast) - 2.5;
  g.push({ type: "rect", z: 57, silent: true, shape: { x: 1270, y: ryl - 6.5, width: 44, height: 13, r: 2.5 }, style: { fill: "#12e6f2" } });
  g.push(txt(rsiLast.toFixed(4), 1292, ryl, "#0a2a2a", F, "center"));

  // bottom edge and cursor time tag
  g.push(hl(0, 1266, 539.5, "#555555"));
  g.push(rect(997, 539, 31, 4.5, "#cfcfcf"));

  // hand-drawn red circles
  const circ1 = [[1037, 355], [1020, 351], [1012, 347], [1008, 327], [1012, 313], [1023, 300], [1037, 293], [1053, 287], [1073, 286],
    [1088, 290], [1097, 300], [1103, 320], [1107, 343], [1106, 356], [1090, 358], [1065, 356], [1040, 355]];
  const circ2 = [[983, 543], [983, 527], [987, 507], [997, 497], [1010, 489], [1030, 486], [1047, 487], [1060, 493], [1070, 502],
    [1083, 507], [1095, 517], [1092, 530], [1082, 538], [1073, 542], [1068, 546], [1050, 547], [1030, 547], [1000, 545], [984, 543]];
  g.push({ type: "polyline", z: 70, silent: true, shape: { points: circ1, smooth: 0.3 }, style: { stroke: "#ff1414", lineWidth: 1.6, fill: null } });
  g.push({ type: "polyline", z: 70, silent: true, shape: { points: circ2, smooth: 0.3 }, style: { stroke: "#ff1414", lineWidth: 2, fill: null } });

  return g;
}

export default function App() {
  const ref = useRef(null);
  useEffect(() => {
    const chart = echarts.init(ref.current, null, { renderer: "svg" });
    chart.setOption(buildOption());
    chart.setOption({ graphic: { elements: buildGraphic(chart) } });
    return () => chart.dispose();
  }, []);
  return (
    <div
      ref={ref}
      style={{ position: "fixed", left: 0, top: 0, width: 1322, height: 548, background: "#0b0b0b" }}
    />
  );
}
